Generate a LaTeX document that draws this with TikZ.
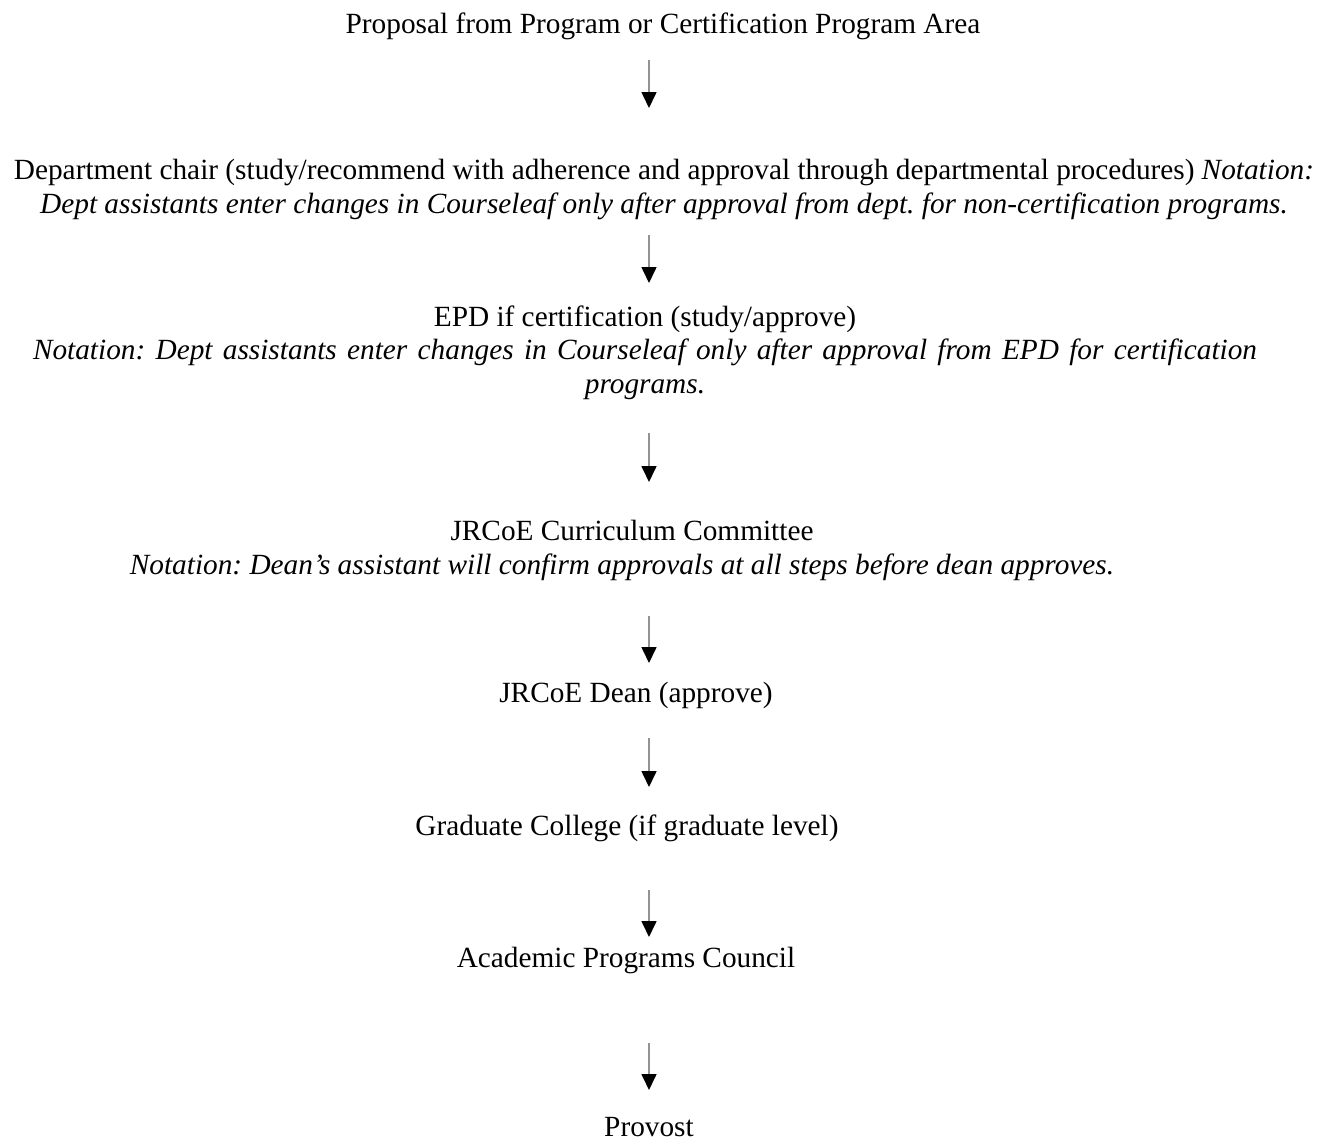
\documentclass[tikz,border=0pt]{standalone}
\usepackage{fontspec}
\setmainfont{Liberation Serif}
\usetikzlibrary{arrows.meta}
\frenchspacing
\begin{document}
\begin{tikzpicture}[x=1pt,y=-1pt,
  lbl/.style={inner sep=0pt, anchor=base, align=center, font=\fontsize{29.3}{33.5}\selectfont},
  flow/.style={draw=gray!85, line width=1.6pt, -{Triangle[width=15pt,length=16pt,color=black]}}]
\useasboundingbox (0,0) rectangle (1328,1144);
\node[lbl] (prop) at (663,33) {Proposal from Program or Certification Program Area};
\node[lbl] (dept) at (664,213) {Department chair (study/recommend with adherence and approval through departmental procedures) \textit{Notation:}\\
\textit{Dept assistants enter changes in Courseleaf only after approval from dept. for non-certification programs.}};
\node[lbl] (epd) at (645,393) {EPD if certification (study/approve)\\
\makebox[1224pt][s]{\itshape Notation: Dept assistants enter changes in Courseleaf only after approval from EPD for certification}\\
\textit{programs.}};
\node[lbl] (jrc) at (632,540) {JRCoE Curriculum Committee};
\node[lbl] (jrcn) at (622,574) {\textit{Notation: Dean’s assistant will confirm approvals at all steps before dean approves.}};
\node[lbl] (dean) at (636,702) {JRCoE Dean (approve)};
\node[lbl] (grad) at (627,835) {Graduate College (if graduate level)};
\node[lbl] (apc) at (626,967) {Academic Programs Council};
\node[lbl] (prov) at (649,1136) {Provost};
\coordinate (a1s) at (649,60);   \coordinate (a1e) at (649,108);
\coordinate (a2s) at (649,235);  \coordinate (a2e) at (649,283);
\coordinate (a3s) at (649,433);  \coordinate (a3e) at (649,482);
\coordinate (a4s) at (649,616);  \coordinate (a4e) at (649,663);
\coordinate (a5s) at (649,738);  \coordinate (a5e) at (649,787);
\coordinate (a6s) at (649,890);  \coordinate (a6e) at (649,937);
\coordinate (a7s) at (649,1043); \coordinate (a7e) at (649,1090);
\draw[flow] (a1s) -- (a1e);
\draw[flow] (a2s) -- (a2e);
\draw[flow] (a3s) -- (a3e);
\draw[flow] (a4s) -- (a4e);
\draw[flow] (a5s) -- (a5e);
\draw[flow] (a6s) -- (a6e);
\draw[flow] (a7s) -- (a7e);
\end{tikzpicture}
\end{document}
